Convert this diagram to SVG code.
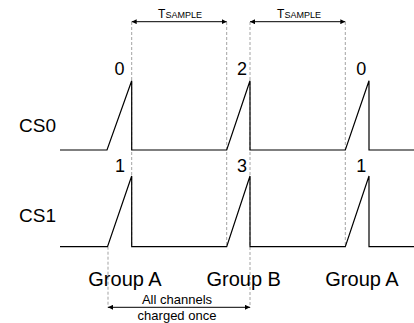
<svg xmlns="http://www.w3.org/2000/svg" width="414" height="323" viewBox="0 0 414 323">
<style>
text{font-family:"Liberation Sans",Arial,sans-serif;fill:#000}
.sig{fill:none;stroke:#000;stroke-width:1.2}
.dash{fill:none;stroke:#999;stroke-width:0.9;stroke-dasharray:3,2}
.dim{fill:none;stroke:#000;stroke-width:1}
.lbl{font-size:19px}
.num{font-size:18px;text-anchor:middle}
.grp{font-size:20px;text-anchor:middle}
.small{font-size:13px;text-anchor:middle}
</style>
<defs>
<marker id="ah" viewBox="0 0 10 10" refX="10" refY="5" markerWidth="5" markerHeight="5" orient="auto-start-reverse" markerUnits="userSpaceOnUse">
<path d="M0,0 L10,5 L0,10 z" fill="#000"/>
</marker>
</defs>
<g id="guides">
<line class="dash" x1="131.7" y1="22" x2="131.7" y2="246.7"/>
<line class="dash" x1="226.7" y1="22" x2="226.7" y2="246.7"/>
<line class="dash" x1="250" y1="22" x2="250" y2="308"/>
<line class="dash" x1="345.3" y1="22" x2="345.3" y2="246.7"/>
<line class="dash" x1="108" y1="246.7" x2="108" y2="308"/>
</g>
<g id="cs0">
<text class="lbl" x="19" y="131.5">CS0</text>
<polyline class="sig" points="60,150 107,150 131.7,80.7 131.7,150 226.7,150 250,80.7 250,150 345.3,150 369,80.7 369,150 414,150"/>
<text class="num" x="119.5" y="75">0</text>
<text class="num" x="242" y="75">2</text>
<text class="num" x="361.3" y="75">0</text>
</g>
<g id="cs1">
<text class="lbl" x="19" y="222">CS1</text>
<polyline class="sig" points="60,246.7 107.5,246.7 131.7,176 131.7,246.7 226.7,246.7 250,176 250,246.7 345.3,246.7 369,176 369,246.7 414,246.7"/>
<text class="num" x="120" y="171.7">1</text>
<text class="num" x="242" y="171.7">3</text>
<text class="num" x="361.3" y="171.7">1</text>
</g>
<g id="groups">
<text class="grp" x="125" y="285.5">Group A</text>
<text class="grp" x="243.7" y="285.5">Group B</text>
<text class="grp" x="362" y="285.5">Group A</text>
</g>
<g id="connectors">
<line class="dim" x1="131.7" y1="21.7" x2="226.7" y2="21.7" marker-start="url(#ah)" marker-end="url(#ah)"/>
<line class="dim" x1="250" y1="21.7" x2="345.3" y2="21.7" marker-start="url(#ah)" marker-end="url(#ah)"/>
<line class="dim" x1="108" y1="307.3" x2="250" y2="307.3" marker-start="url(#ah)" marker-end="url(#ah)"/>
</g>
<g id="tsample1">
<text x="180" y="18.3" text-anchor="middle"><tspan font-size="12px">T</tspan><tspan font-size="9px">SAMPLE</tspan></text>
</g>
<g id="tsample2">
<text x="299" y="18.3" text-anchor="middle"><tspan font-size="12px">T</tspan><tspan font-size="9px">SAMPLE</tspan></text>
</g>
<g id="note">
<text class="small" x="177" y="304">All channels</text>
<text class="small" x="177" y="319.5">charged once</text>
</g>
</svg>
